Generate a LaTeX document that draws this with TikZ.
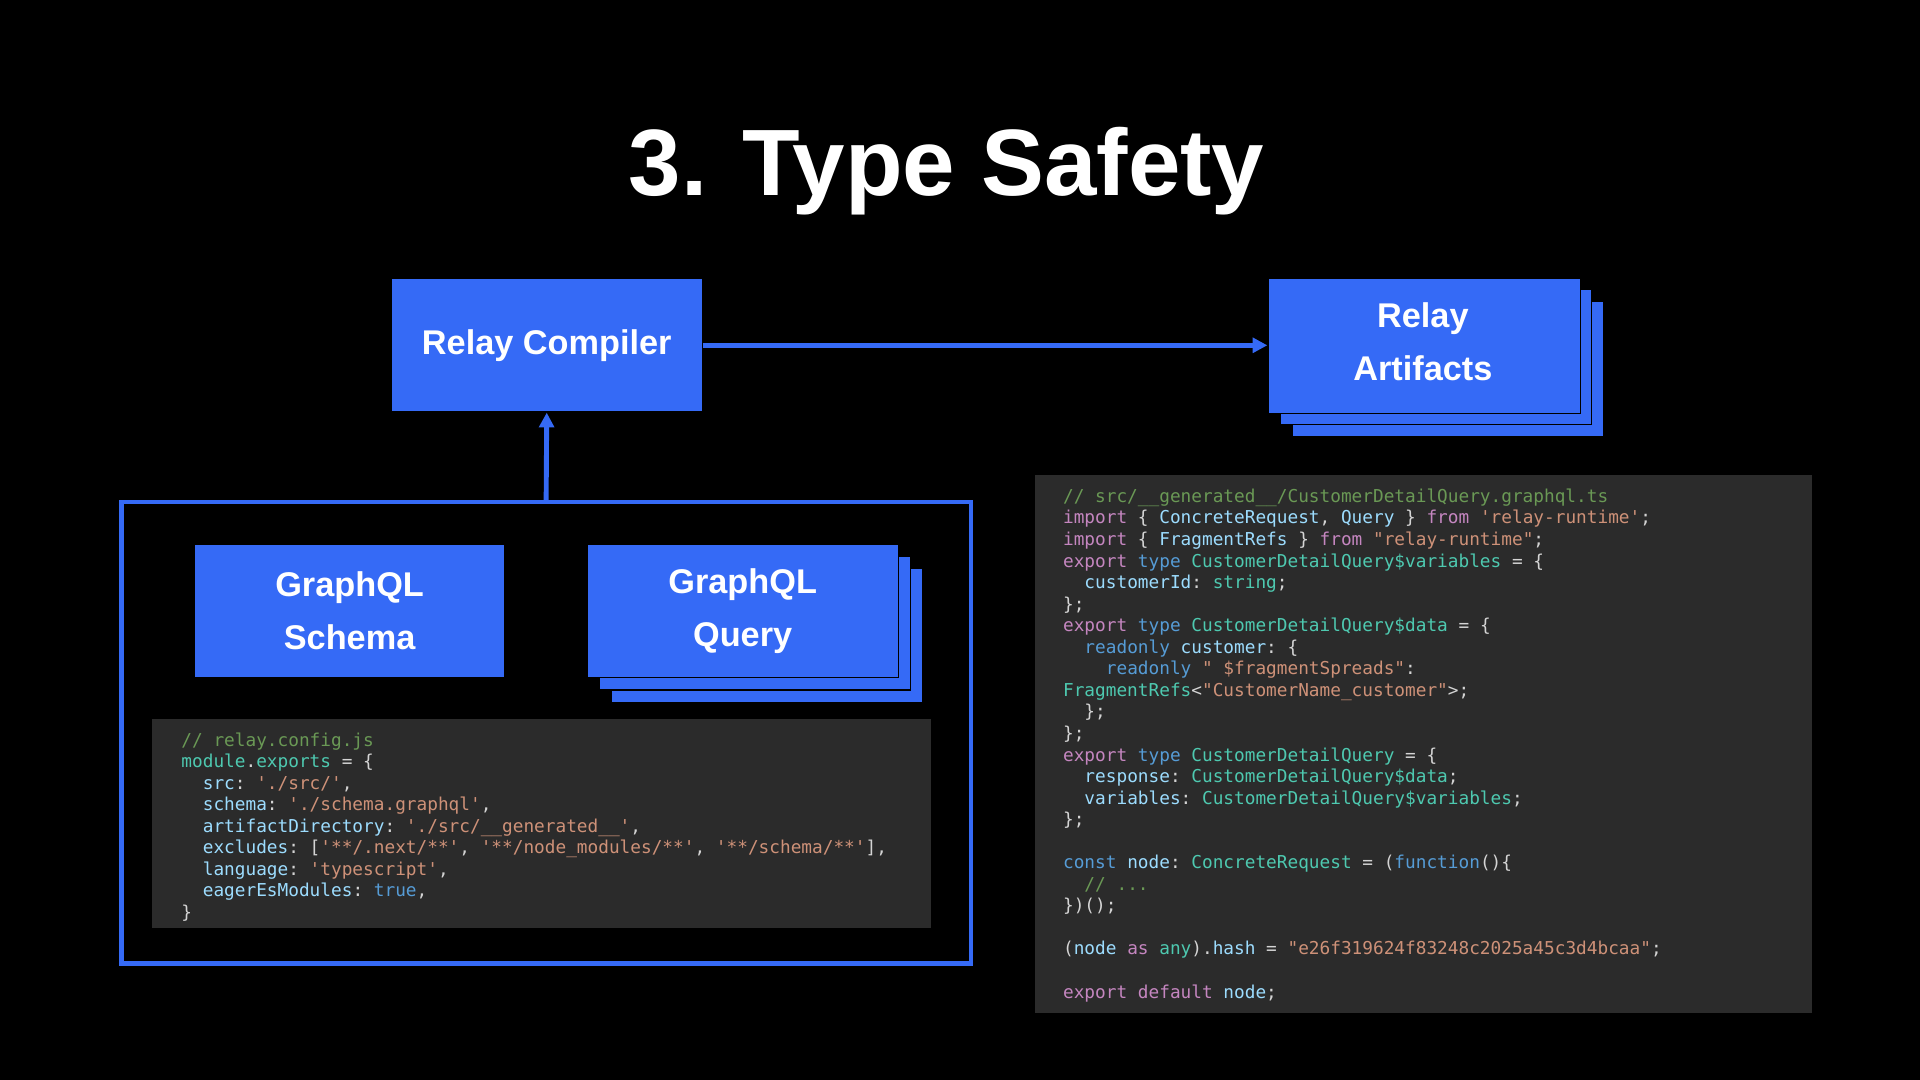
\documentclass[tikz,border=0pt]{standalone}
\usepackage{fontspec}
\setmainfont{Liberation Sans}
\setmonofont{DejaVu Sans Mono}
\usetikzlibrary{arrows.meta}
\definecolor{rblue}{HTML}{356AF6}
\definecolor{codebg}{HTML}{2B2B2B}
\definecolor{ccmc}{HTML}{6A9955}
\definecolor{ckwc}{HTML}{C586C0}
\definecolor{ctyc}{HTML}{4EC9B0}
\definecolor{cstc}{HTML}{CE9178}
\definecolor{cidc}{HTML}{9CDCFE}
\definecolor{ctxc}{HTML}{D4D4D4}
\definecolor{cblc}{HTML}{569CD6}
\newcommand{\ccm}[1]{\textcolor{ccmc}{#1}}
\newcommand{\ckw}[1]{\textcolor{ckwc}{#1}}
\newcommand{\cty}[1]{\textcolor{ctyc}{#1}}
\newcommand{\cst}[1]{\textcolor{cstc}{#1}}
\newcommand{\cid}[1]{\textcolor{cidc}{#1}}
\newcommand{\cbl}[1]{\textcolor{cblc}{#1}}
\newcommand{\ind}{\phantom{xx}}
\begin{document}
\begin{tikzpicture}[x=1pt,y=-1pt,
  bbox/.style={fill=rblue,draw=black,line width=1pt},
  lbl/.style={text=white,font=\bfseries\fontsize{28}{43}\selectfont,align=center},
  conn/.style={rblue,line width=4pt,-{Triangle[length=12pt,width=12pt]}},
  codebox/.style={fill=codebg,draw=none},
  code/.style={anchor=north west,inner sep=0pt,align=left,text=ctxc,font=\ttfamily\fontsize{14.5}{17.6}\selectfont}]
\fill[black] (0,0) rectangle (1568,882);
\useasboundingbox (0,0) rectangle (1568,882);
\node[text=white,font=\bfseries\fontsize{77}{80}\selectfont] (title) at (773,140) {3. Type Safety};
% compiler
\node[bbox,minimum width=254pt,minimum height=109pt,anchor=north west] (comp) at (319,227) {};
\node[lbl] at (comp.center) {Relay Compiler};
% artifacts
\node[bbox,minimum width=254pt,minimum height=110pt,anchor=north west] (art3) at (1055,246) {};
\node[bbox,minimum width=254pt,minimum height=110pt,anchor=north west] (art2) at (1045,236) {};
\node[bbox,minimum width=255pt,minimum height=110pt,anchor=north west] (art) at (1035,227) {};
\node[lbl] at (1162,279) {Relay\\Artifacts};
\draw[conn] (comp.east) -- (art.west|-comp.east);
% frame
\draw[rblue,line width=4pt] (99,410) rectangle (793,787);
\coordinate (ftop) at (446,410);
\draw[conn] (ftop) -- (comp.south);
% schema
\node[bbox,minimum width=254pt,minimum height=109pt,anchor=north west] (schema) at (158,444) {};
\node[lbl] at (schema.center) {GraphQL\\Schema};
% query
\node[bbox,minimum width=254pt,minimum height=109pt,anchor=north west] (q3) at (499,464) {};
\node[bbox,minimum width=254pt,minimum height=109pt,anchor=north west] (q2) at (489,454) {};
\node[bbox,minimum width=254pt,minimum height=109pt,anchor=north west] (query) at (479,444) {};
\node[lbl] at (query.center) {GraphQL\\Query};
% config code
\fill[codebg] (124,587) rectangle (760,758);
\node[code] (cfg) at (148,598) {%
\ccm{// relay.config.js}\\
\cty{module}.\cty{exports} = \{\\
\ind\cid{src}: \cst{'./src/'},\\
\ind\cid{schema}: \cst{'./schema.graphql'},\\
\ind\cid{artifactDirectory}: \cst{'./src/\_\_generated\_\_'},\\
\ind\cid{excludes}: [\cst{'**/.next/**'}, \cst{'**/node\_modules/**'}, \cst{'**/schema/**'}],\\
\ind\cid{language}: \cst{'typescript'},\\
\ind\cid{eagerEsModules}: \cbl{true},\\
\}};
% artifact code
\fill[codebg] (845,388) rectangle (1480,827);
\node[code] (gen) at (868,399) {%
\ccm{// src/\_\_generated\_\_/CustomerDetailQuery.graphql.ts}\\
\ckw{import} \{ \cid{ConcreteRequest}, \cid{Query} \} \ckw{from} \cst{'relay-runtime'};\\
\ckw{import} \{ \cid{FragmentRefs} \} \ckw{from} \cst{"relay-runtime"};\\
\ckw{export} \cbl{type} \cty{CustomerDetailQuery\$variables} = \{\\
\ind\cid{customerId}: \cty{string};\\
\};\\
\ckw{export} \cbl{type} \cty{CustomerDetailQuery\$data} = \{\\
\ind\cbl{readonly} \cid{customer}: \{\\
\ind\ind\cbl{readonly} \cst{" \$fragmentSpreads"}:\\
\cty{FragmentRefs}<\cst{"CustomerName\_customer"}>;\\
\ind\};\\
\};\\
\ckw{export} \cbl{type} \cty{CustomerDetailQuery} = \{\\
\ind\cid{response}: \cty{CustomerDetailQuery\$data};\\
\ind\cid{variables}: \cty{CustomerDetailQuery\$variables};\\
\};\\
\mbox{}\\
\cbl{const} \cid{node}: \cty{ConcreteRequest} = (\cbl{function}()\{\\
\ind\ccm{// ...}\\
\})();\\
\mbox{}\\
(\cid{node} \ckw{as} \cty{any}).\cid{hash} = \cst{"e26f319624f83248c2025a45c3d4bcaa"};\\
\mbox{}\\
\ckw{export} \ckw{default} \cid{node};};
\end{tikzpicture}
\end{document}
